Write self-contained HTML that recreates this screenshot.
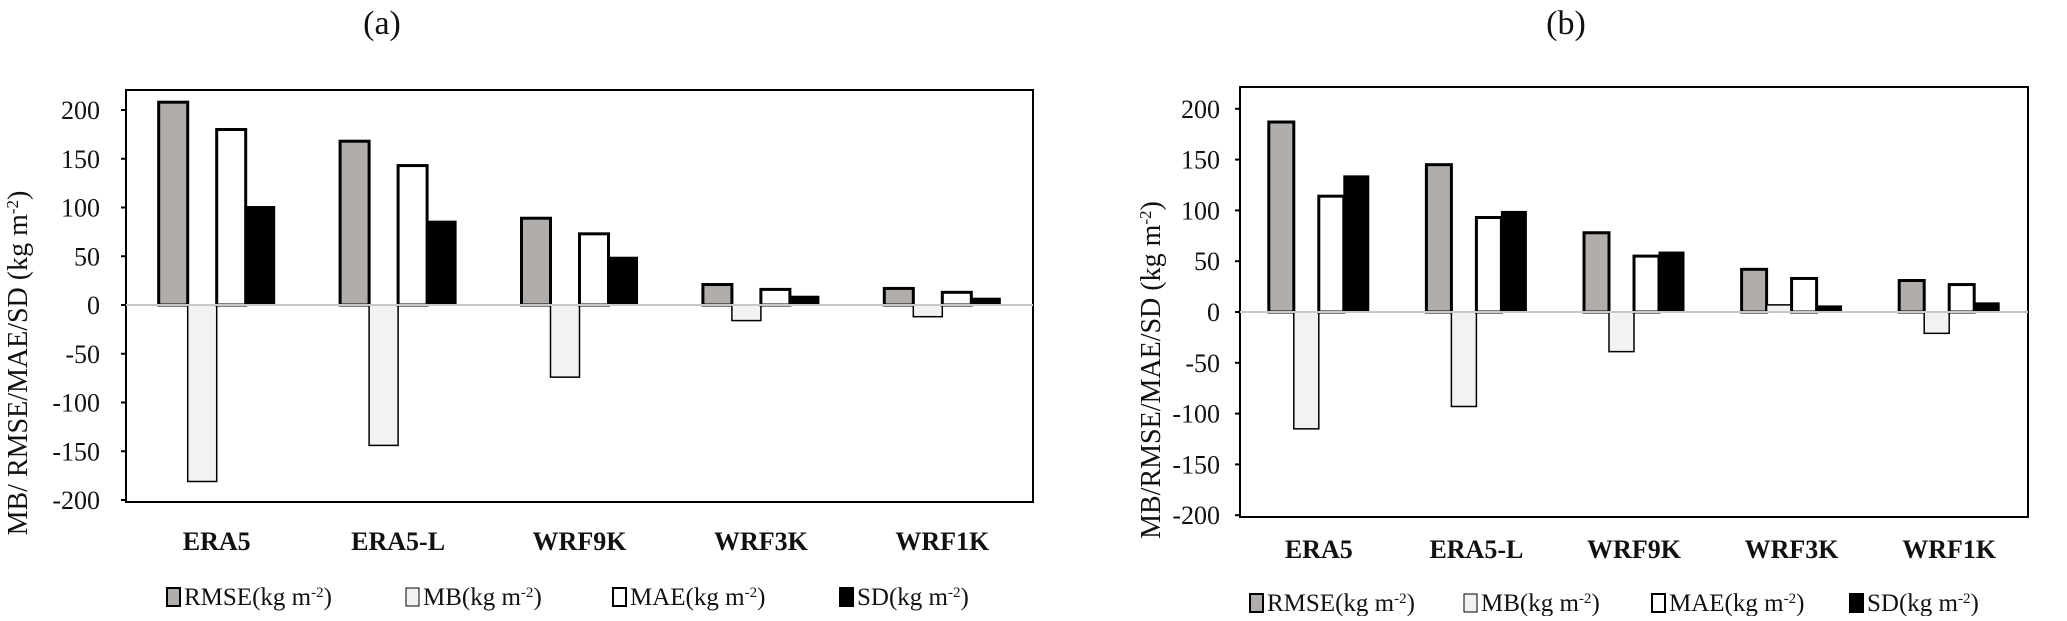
<!DOCTYPE html>
<html><head><meta charset="utf-8"><style>
body{margin:0;background:#fff;width:2067px;height:616px;overflow:hidden}
svg text{font-family:"Liberation Serif",serif;fill:#111}
</style></head><body>
<svg id="c" width="2067" height="616" xmlns="http://www.w3.org/2000/svg"></svg>
<script>
const categories=["ERA5","ERA5-L","WRF9K","WRF3K","WRF1K"];
const seriesNames=["RMSE","MB","MAE","SD"];
const rmseA=[208,168,89,21,17];
const mbA=[-181,-144,-74,-16,-12];
const maeA=[180,143,73,16,13];
const sdA=[101,86,49,9,7];
const rmseB=[187,145,78,42,31];
const mbB=[-115,-93,-39,7,-21];
const maeB=[114,93,55,33,27];
const sdB=[134,99,59,6,9];
const yTicks=[200,150,100,50,0,-50,-100,-150,-200];
const NS="http://www.w3.org/2000/svg";
const svg=document.getElementById('c');
function mk(t,a,p){const e=document.createElementNS(NS,t);for(const k in a)e.setAttribute(k,a[k]);(p||svg).appendChild(e);return e;}
const fills=["#b0adab","#f2f2f2","#ffffff","#000000"];
const strokeW=[3,1.5,3,1];
function panel(cfg){
  const g=mk('g',{});
  
  
  const y=v=>cfg.y0-v*cfg.k;
  const bw=(cfg.R-cfg.L)/categories.length;
  const fr=mk('rect',{x:cfg.L,y:cfg.T,width:cfg.R-cfg.L,height:cfg.B-cfg.T,fill:'none',stroke:'#000','stroke-width':2},g);
  
  yTicks.forEach(t=>{
    const tl=mk('line',{x1:cfg.L-5,x2:cfg.L,y1:y(t),y2:y(t),stroke:'#000','stroke-width':2},g);
    
    const tx=mk('text',{x:cfg.L-cfg.tickOff,y:y(t)+9,'text-anchor':'end','font-size':26},g);
    tx.textContent=t;
    
  });
  const series=cfg.series;
  categories.forEach((c,i)=>{
    const cx=cfg.L+bw*(i+0.5);
    series.forEach((s,j)=>{
      const v=s[i];
      const x=cx-2*cfg.w+j*cfg.w;
      const r=mk('rect',{x:x,y:Math.min(y(v),y(0)),width:cfg.w,height:Math.abs(y(v)-y(0)),fill:fills[j],stroke:'#000','stroke-width':strokeW[j]},g);
      
      
    });
    const lb=mk('text',{x:cx,y:cfg.catY,'text-anchor':'middle','font-size':26,'font-weight':'bold'},g);
    lb.textContent=c;
    
  });
  const zl=mk('line',{x1:cfg.L,x2:cfg.R,y1:y(0),y2:y(0),stroke:'#c8c8c8','stroke-width':2},g);
  
  const at=mk('text',{x:0,y:0,'text-anchor':'middle','font-size':28,transform:`translate(${cfg.axX},${cfg.axY}) rotate(-90)`},g);
  at.innerHTML=cfg.axTitle+' (kg m<tspan baseline-shift="super" font-size="17">-2</tspan>)';
  
  const ti=mk('text',{x:cfg.titleX,y:34,'text-anchor':'middle','font-size':34},g);
  ti.textContent=cfg.title;
  
  seriesNames.forEach((n,j)=>{
    const lx=cfg.legX[j];
    const ls=mk('rect',{x:lx,y:cfg.legY-17,width:13,height:18,fill:fills[j],stroke:'#000','stroke-width':j==1?1:2},g);
    
    const lt=mk('text',{x:lx+17,y:cfg.legY,'font-size':25},g);
    lt.innerHTML=n+'(kg m<tspan baseline-shift="super" font-size="15">-2</tspan>)';
    
  });
}
panel({name:'panel-a',L:126,R:1033,T:90,B:502,y0:305,k:0.975,w:29,tickOff:26,catY:550,
  series:[rmseA,mbA,maeA,sdA],axX:27,axY:363,axTitle:'MB/ RMSE/MAE/SD',title:'(a)',titleX:382,
  legX:[167,406,613,840],legY:605});
panel({name:'panel-b',L:1240,R:2028,T:87,B:517,y0:312,k:1.016,w:25,tickOff:20,catY:558,
  series:[rmseB,mbB,maeB,sdB],axX:1160,axY:370,axTitle:'MB/RMSE/MAE/SD',title:'(b)',titleX:1566,
  legX:[1250,1464,1652,1850],legY:611});
</script>
</body></html>
